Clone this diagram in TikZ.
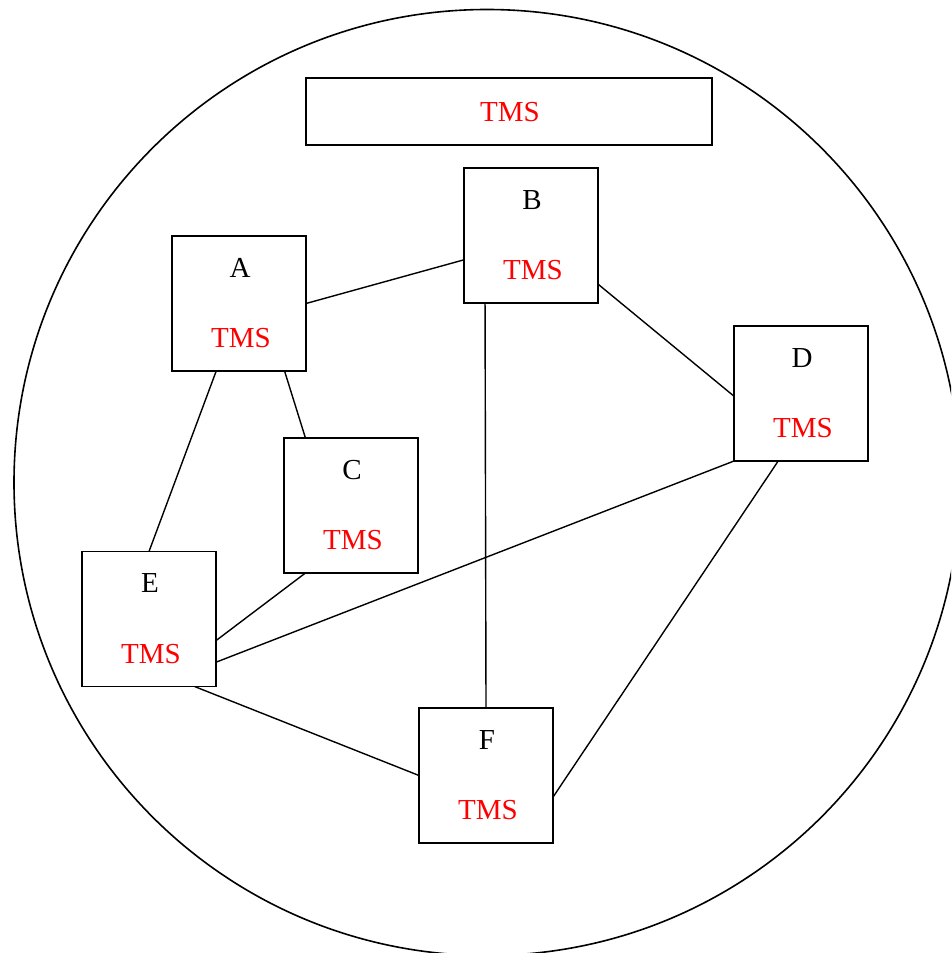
\documentclass[tikz,border=0pt]{standalone}
\usepackage{fontspec}
\setmainfont{Liberation Serif}
\usetikzlibrary{calc}
\begin{document}
\begin{tikzpicture}[x=1pt,y=-1pt,
  box/.style={draw=black,line width=1.6pt,minimum width=134pt,minimum height=135pt,inner sep=0pt,outer sep=0pt},
  wide/.style={draw=black,line width=1.6pt,minimum width=406pt,minimum height=67pt,inner sep=0pt,outer sep=0pt},
  letter/.style={anchor=base,inner sep=0pt,font=\fontsize{29}{34}\selectfont,text=black},
  tms/.style={anchor=base,inner sep=0pt,font=\fontsize{29}{34}\selectfont,text=red},
  conn/.style={draw=black,line width=1.4pt}]
\useasboundingbox (0,0) rectangle (951,953);
\begin{scope}
\clip (0,0) rectangle (951,953);
\draw[line width=1.6pt] (487,482.5) circle[radius=473];
\end{scope}
\node[wide] (T) at (509,111.5) {};
\node[tms] (Ttms) at ($(T.center)+(1,10)$) {TMS};
\foreach \n/\x/\y in {A/239/303.5, B/531/235.5, C/351/505.5, D/801/393.5, E/149/619, F/486/775.5}{
  \node[box] (\n) at (\x,\y) {};
  \node[letter] (\n lab) at ($(\n.center)+(1,-26.5)$) {\n};
  \node[tms] (\n tms) at ($(\n.center)+(2,44)$) {TMS};
}
\draw[conn] (A.east) -- ($(B.north west)!0.68!(B.south west)$);
\draw[conn] ($(B.north east)!0.86!(B.south east)$) -- ($(D.north west)!0.52!(D.south west)$);
\draw[conn] ($(B.south west)!0.157!(B.south east)$) -- (F.north);
\draw[conn] ($(A.south west)!0.84!(A.south east)$) -- ($(C.north west)!0.16!(C.north east)$);
\draw[conn] ($(A.south west)!0.33!(A.south east)$) -- (E.north);
\draw[conn] ($(C.south west)!0.16!(C.south east)$) -- ($(E.north east)!0.66!(E.south east)$);
\draw[conn] (D.south west) -- ($(E.north east)!0.82!(E.south east)$);
\draw[conn] ($(D.south west)!0.33!(D.south east)$) -- ($(F.north east)!0.66!(F.south east)$);
\draw[conn] ($(E.south west)!0.84!(E.south east)$) -- (F.west);
\end{tikzpicture}
\end{document}
